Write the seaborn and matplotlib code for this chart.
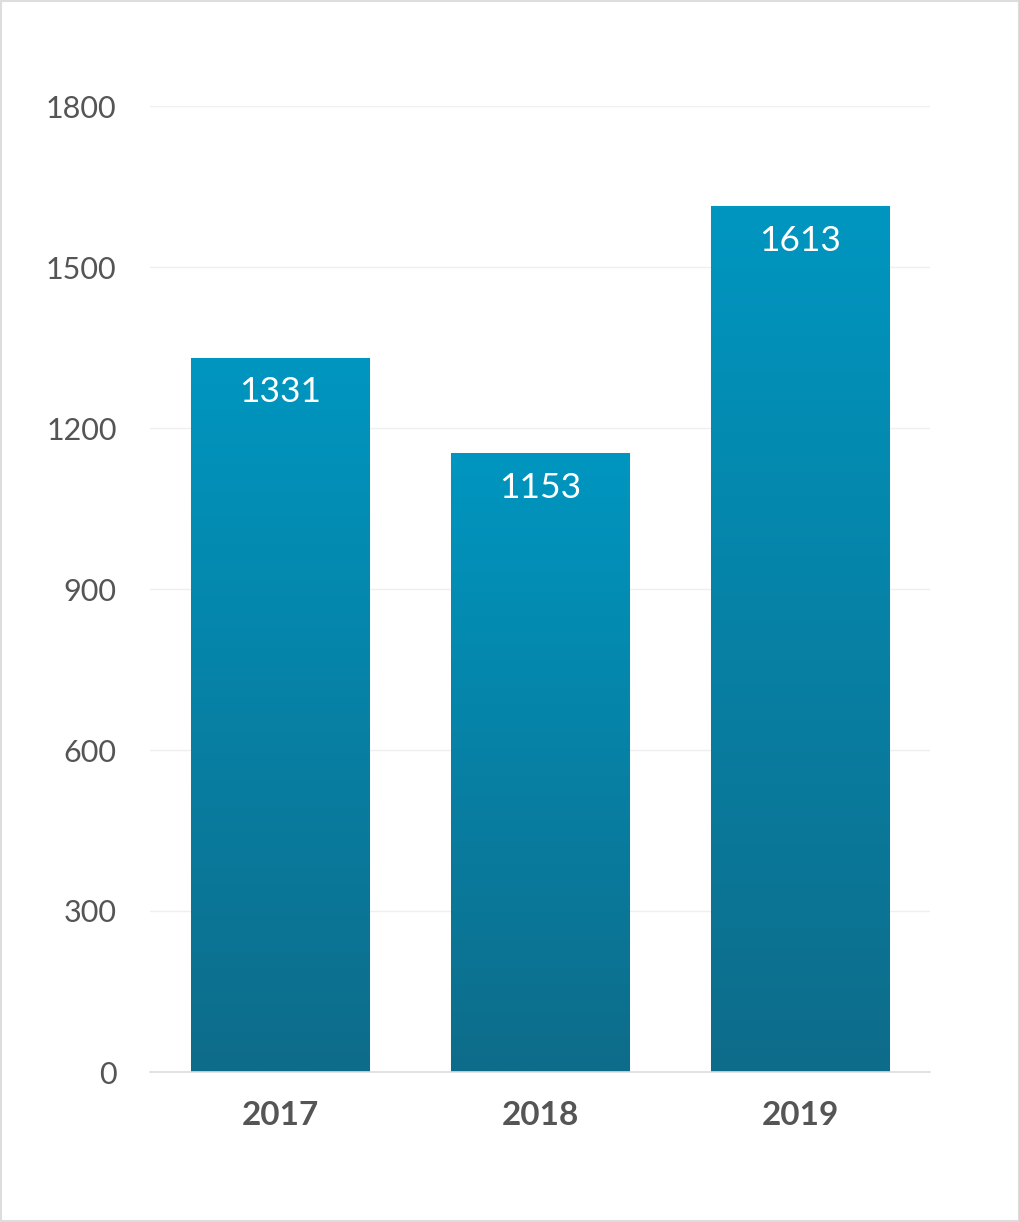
import numpy as np
import pandas as pd
import matplotlib
matplotlib.use('Agg')
import matplotlib.pyplot as plt
from matplotlib.colors import LinearSegmentedColormap
from matplotlib.patches import Rectangle
import seaborn as sns

# дані
years = ['2017', '2018', '2019']
values = [1331, 1153, 1613]
y_ticks = [0, 300, 600, 900, 1200, 1500, 1800]

df = pd.DataFrame({'year': years, 'value': values})

sns.set_style('white')
plt.rcParams['font.family'] = ['Lato', 'DejaVu Sans']

fig = plt.figure(figsize=(10.2, 12.22), dpi=100)
ax = fig.add_axes([150 / 1020, 1 - 1072 / 1222, 780 / 1020, (1072 - 106) / 1222])

sns.barplot(data=df, x='year', y='value', ax=ax, width=0.685,
            color='#0488b0', edgecolor='#8cc9e0', linewidth=0.8, zorder=2)

# градієнт на стовпчиках
cmap = LinearSegmentedColormap.from_list('grad', ['#0e6c8a', '#0096c0'])
grad = np.linspace(0, 1, 256).reshape(-1, 1)
for bar in ax.patches:
    x0, w, h = bar.get_x(), bar.get_width(), bar.get_height()
    im = ax.imshow(grad, cmap=cmap, aspect='auto', origin='lower',
                   extent=[x0, x0 + w, 0, h], zorder=2.5)
    im.set_clip_path(bar)
    ax.text(x0 + w / 2, h - 35, f'{int(h)}', ha='center', va='top',
            color='white', fontsize=25.5, zorder=4)

ax.set_xlim(-0.5, 2.5)
ax.set_ylim(0, 1800)
ax.set_yticks(y_ticks)
ax.set_yticklabels([str(t) for t in y_ticks])

ax.grid(axis='y', color='#efefef', linewidth=1, zorder=0)
ax.set_axisbelow(True)
for s in ['top', 'right', 'left']:
    ax.spines[s].set_visible(False)
ax.spines['bottom'].set_color('#dddddd')
ax.spines['bottom'].set_linewidth(1.2)
ax.spines['bottom'].set_zorder(5)

ax.set_xlabel('')
ax.set_ylabel('')
ax.tick_params(axis='y', length=0, pad=24, labelsize=22, labelcolor='#555555')
ax.tick_params(axis='x', length=0, pad=21, labelsize=24, labelcolor='#555555')
for lbl in ax.get_xticklabels():
    lbl.set_fontweight('bold')

# рамка навколо малюнка
fig.patches.append(Rectangle((0.001, 0.001), 0.998, 0.998, transform=fig.transFigure,
                             fill=False, edgecolor='#dddddd', linewidth=1.5))

fig.savefig('out.png', dpi=100)
